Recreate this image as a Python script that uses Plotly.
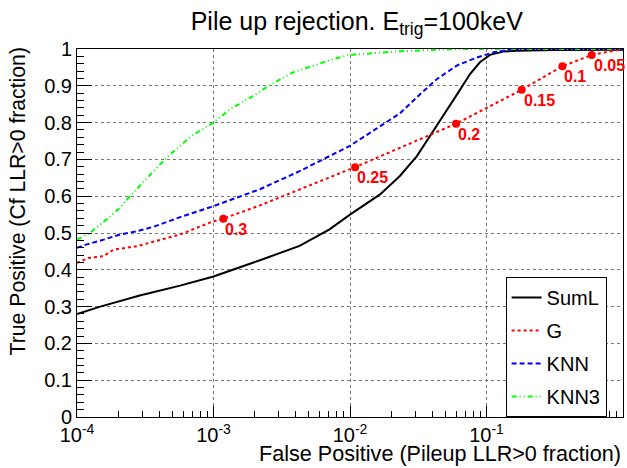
import math
import plotly.graph_objects as go

# ---------------- data ----------------
suml_fp = [1.0e-4, 1.48e-4, 2.88e-4, 5.69e-4, 1.0e-3, 1.56e-3, 2.19e-3, 4.27e-3, 7.08e-3,
           1.0e-2, 1.66e-2, 2.32e-2, 3.09e-2, 3.75e-2, 4.83e-2, 6.22e-2, 7.57e-2, 8.95e-2,
           0.106, 0.133, 0.166, 0.316, 1.0]
suml_tp = [0.280, 0.300, 0.330, 0.357, 0.382, 0.406, 0.426, 0.465, 0.510,
           0.550, 0.605, 0.655, 0.709, 0.757, 0.818, 0.882, 0.932, 0.964,
           0.984, 0.993, 0.995, 0.997, 0.998]

g_fp = [1.0e-4, 1.21e-4, 1.56e-4, 1.86e-4, 2.74e-4, 3.81e-4, 5.69e-4, 1.0e-3, 1.18e-3,
        2.19e-3, 4.27e-3, 1.09e-2, 5.98e-2, 0.181, 0.360, 0.590, 1.0]
g_tp = [0.419, 0.432, 0.437, 0.455, 0.464, 0.478, 0.496, 0.532, 0.539,
        0.575, 0.619, 0.679, 0.797, 0.889, 0.953, 0.984, 1.0]

knn_fp = [1.0e-4, 1.18e-4, 1.57e-4, 2.07e-4, 2.75e-4, 3.64e-4, 5.69e-4, 1.0e-3, 2.19e-3,
          4.27e-3, 1.0e-2, 2.32e-2, 3.26e-2, 4.32e-2, 6.05e-2, 8.51e-2, 0.113, 0.141, 0.2, 1.0]
knn_tp = [0.460, 0.469, 0.482, 0.496, 0.505, 0.517, 0.543, 0.573, 0.619,
          0.668, 0.737, 0.825, 0.877, 0.918, 0.955, 0.977, 0.991, 0.997, 1.0, 1.0]

knn3_fp = [1.0e-4, 1.24e-4, 1.65e-4, 2.07e-4, 2.44e-4, 2.89e-4, 3.64e-4, 4.54e-4, 6.92e-4,
           1.0e-3, 1.32e-3, 1.96e-3, 2.67e-3, 3.85e-3, 5.70e-3, 6.93e-3, 8.0e-3, 1.0e-2,
           2.32e-2, 4.07e-2, 6.3e-2, 1.0]
knn3_tp = [0.482, 0.500, 0.537, 0.569, 0.600, 0.630, 0.668, 0.705, 0.764,
           0.800, 0.836, 0.873, 0.905, 0.937, 0.959, 0.968, 0.975, 0.984,
           0.994, 0.998, 1.0, 1.0]

# threshold markers on the G curve
thr_fp = [1.18e-3, 1.09e-2, 5.98e-2, 0.181, 0.360, 0.590]
thr_tp = [0.539, 0.679, 0.797, 0.889, 0.953, 0.984]
thr_labels = ["0.3", "0.25", "0.2", "0.15", "0.1", "0.05"]

x_tickvals = [1e-4, 1e-3, 1e-2, 1e-1, 1]
x_ticktext = ["10<sup>-4</sup>", "10<sup>-3</sup>", "10<sup>-2</sup>", "10<sup>-1</sup>", "1"]

title_text = "Pile up rejection. E<sub>trig</sub>=100keV"
x_title = "False Positive (Pileup LLR>0 fraction)"
y_title = "True Positive (Cf LLR>0 fraction)"

FONT = "Liberation Sans, Arial, Helvetica, sans-serif"

fig = go.Figure()
fig.add_trace(go.Scatter(x=suml_fp, y=suml_tp, mode="lines", name="SumL", legendgroup="a",
                         line=dict(color="black", width=2)))
fig.add_trace(go.Scatter(x=g_fp, y=g_tp, mode="lines", name="G", legendgroup="b",
                         line=dict(color="#ff0000", width=2, dash="dot")))
fig.add_trace(go.Scatter(x=knn_fp, y=knn_tp, mode="lines", name="KNN", legendgroup="c",
                         line=dict(color="#0000ff", width=2, dash="5px,3px")))
fig.add_trace(go.Scatter(x=knn3_fp, y=knn3_tp, mode="lines", name="KNN3", legendgroup="d",
                         line=dict(color="#00ff00", width=2, dash="5px,3px,1px,3px,1px,3px")))
fig.add_trace(go.Scatter(x=thr_fp, y=thr_tp, mode="markers", showlegend=False,
                         marker=dict(color="#ff0000", size=8)))

for fp, tp, lab in zip(thr_fp, thr_tp, thr_labels):
    fig.add_annotation(x=math.log10(fp), y=tp, text="<b>" + lab + "</b>",
                       xref="x", yref="y", showarrow=False, xanchor="left", yanchor="top",
                       font=dict(family=FONT, size=16, color="#ff0000"))

fig.add_annotation(text=x_title, xref="paper", yref="paper", x=1.0, y=-0.100,
                   xanchor="right", yanchor="middle", showarrow=False,
                   font=dict(family=FONT, size=21.6, color="black"))
fig.add_annotation(text=y_title, xref="paper", yref="paper", x=-0.108, y=0.586,
                   xanchor="center", yanchor="middle", showarrow=False, textangle=-90,
                   font=dict(family=FONT, size=21.2, color="black"))

fig.update_layout(
    width=627, height=468,
    margin=dict(l=77, r=4, t=49, b=51),
    paper_bgcolor="white", plot_bgcolor="white",
    font=dict(family=FONT, size=20, color="black"),
    title=dict(text=title_text, x=0.569, xanchor="center", y=0.955, yanchor="middle",
               yref="container", font=dict(family=FONT, size=25, color="black")),
    legend=dict(x=0.785, y=0, xanchor="left", yanchor="bottom",
                bordercolor="black", borderwidth=1, bgcolor="white",
                font=dict(family=FONT, size=20, color="black"), tracegroupgap=4),
    showlegend=True,
)
fig.update_xaxes(type="log", range=[-4, 0], tickmode="array", tickvals=x_tickvals,
                 ticktext=x_ticktext, ticks="inside", ticklen=11, tickcolor="black",
                 showline=True, linecolor="black", linewidth=1, mirror=True,
                 showgrid=True, gridcolor="#777", griddash="dot", gridwidth=1, zeroline=False,
                 tickfont=dict(size=20),
                 minor=dict(ticks="inside", ticklen=6, dtick="D1", tickcolor="black", showgrid=False))
fig.update_yaxes(range=[0, 1], dtick=0.1, ticks="inside", ticklen=15, tickcolor="black",
                 showline=True, linecolor="black", linewidth=1, mirror=True,
                 showgrid=True, gridcolor="#777", griddash="dot", gridwidth=1, zeroline=False,
                 tickfont=dict(size=20),
                 minor=dict(ticks="inside", ticklen=7, dtick=0.02, tickcolor="black", showgrid=False))

fig.write_html("out.html")
